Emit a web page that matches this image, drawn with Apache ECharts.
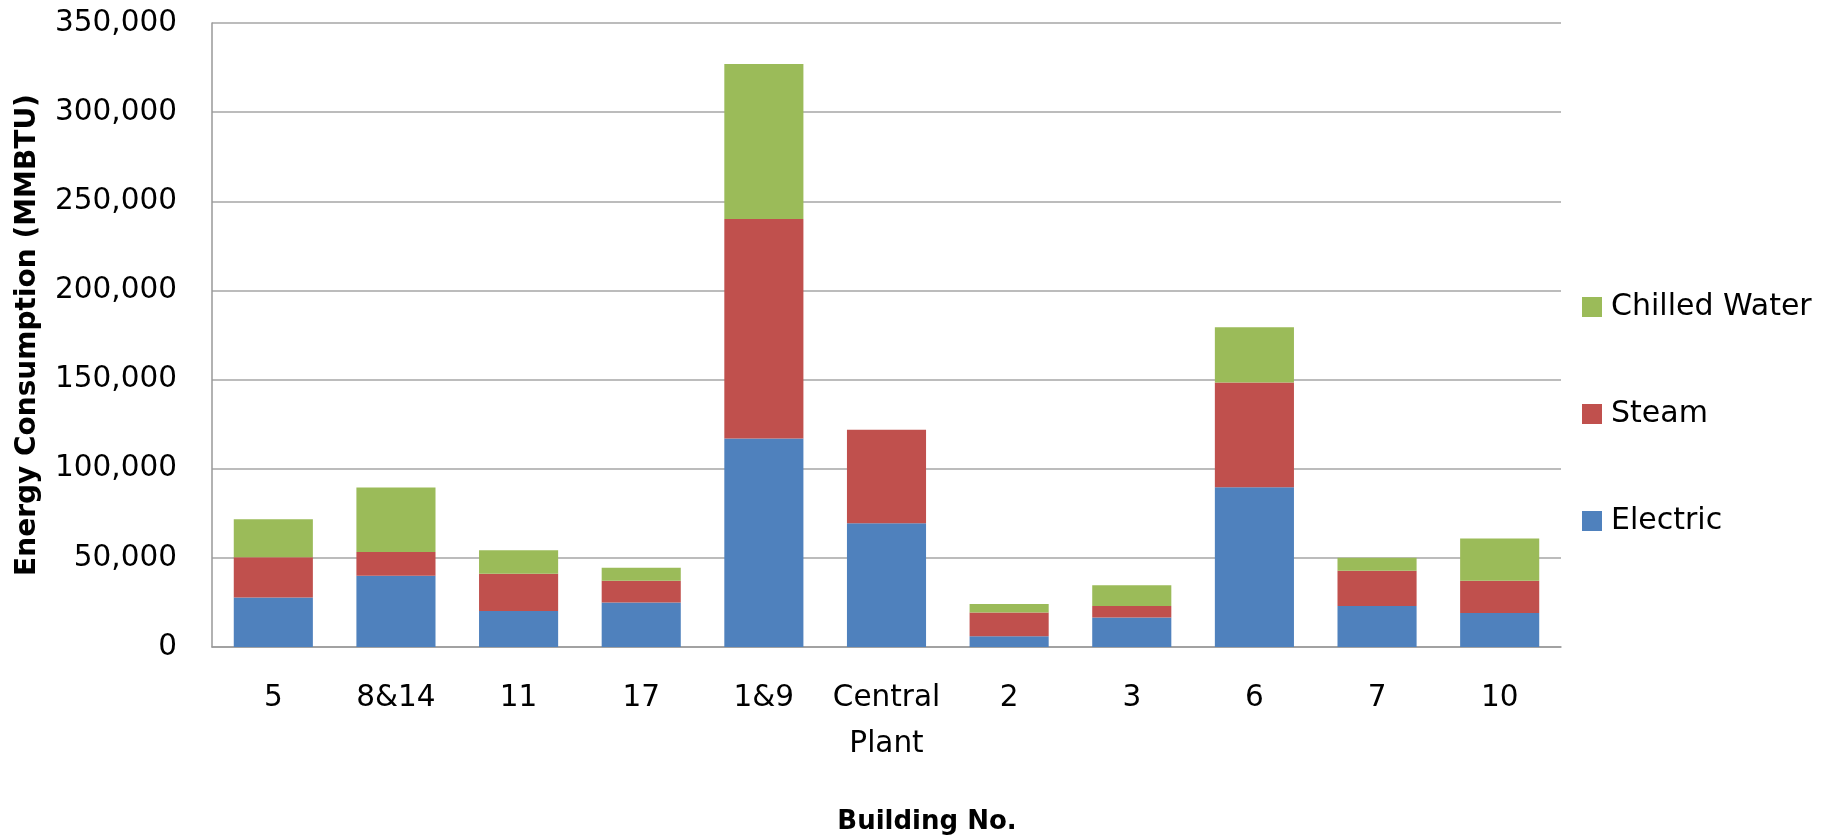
<!DOCTYPE html>
<html>
<head>
<meta charset="utf-8">
<script src="https://cdn.jsdelivr.net/npm/echarts@6/dist/echarts.min.js"></script>
<style>
html,body{margin:0;padding:0;background:#fff;}
#chart{width:1823px;height:836px;}
</style>
</head>
<body>
<div id="chart"></div>
<script>
const categories = ['5', '8&14', '11', '17', '1&9', 'Central Plant', '2', '3', '6', '7', '10'];
const electric = [27700, 40000, 20200, 24900, 116900, 69400, 6000, 16500, 89600, 23000, 19100];
const steam = [22600, 13300, 20900, 12300, 123100, 52400, 13300, 6500, 58700, 19800, 18100];
const chilledWater = [21400, 36100, 13200, 7300, 87000, 0, 4800, 11600, 31100, 7300, 23600];
const seriesNames = ['Electric', 'Steam', 'Chilled Water'];
const yTicks = [0, 50000, 100000, 150000, 200000, 250000, 300000, 350000];

const colors = ['#4F81BD', '#C0504D', '#9BBB59'];
const font = 'DejaVu Sans';
const chart = echarts.init(document.getElementById('chart'));
const dataSets = [electric, steam, chilledWater];

chart.setOption({
  animation: false,
  backgroundColor: '#ffffff',
  title: {
    text: 'Building No.',
    left: 922,
    top: 804,
    textAlign: 'center',
    textStyle: {fontFamily: font, fontSize: 26, fontWeight: 'bold', color: '#000'}
  },
  grid: {left: 212, right: 262, top: 23, bottom: 189, outerBoundsMode: 'none', containLabel: false},
  legend: {
    orient: 'vertical',
    left: 1577,
    top: 287,
    itemWidth: 20,
    itemHeight: 20,
    itemGap: 77,
    icon: 'rect',
    data: ['Chilled Water', 'Steam', 'Electric'],
    textStyle: {fontFamily: font, fontSize: 30, color: '#000', padding: [0, 0, 0, 4]}
  },
  xAxis: {
    type: 'category',
    data: categories,
    axisTick: {show: false},
    axisLine: {lineStyle: {color: '#999', width: 1.5}},
    axisLabel: {
      interval: 0,
      margin: 28,
      fontFamily: font,
      fontSize: 29.5,
      lineHeight: 46,
      color: '#000',
      formatter: v => v.replace(' ', '\n')
    }
  },
  yAxis: {
    type: 'value',
    min: yTicks[0],
    max: yTicks[yTicks.length - 1],
    interval: yTicks[1] - yTicks[0],
    name: 'Energy Consumption (MMBTU)',
    nameLocation: 'middle',
    nameRotate: 90,
    nameGap: 170,
    nameTextStyle: {fontFamily: font, fontSize: 28, fontWeight: 'bold', color: '#000'},
    axisLine: {show: true, lineStyle: {color: '#999', width: 1.5}},
    axisTick: {show: false},
    splitLine: {lineStyle: {color: '#A6A6A6', width: 1.5}},
    axisLabel: {
      margin: 35,
      fontFamily: font,
      fontSize: 29.5,
      color: '#000',
      formatter: v => v.toLocaleString('en-US')
    }
  },
  series: seriesNames.map((name, i) => ({
    name: name,
    type: 'bar',
    stack: 'total',
    barWidth: '64.5%',
    itemStyle: {color: colors[i]},
    data: dataSets[i]
  }))
});
</script>
</body>
</html>
